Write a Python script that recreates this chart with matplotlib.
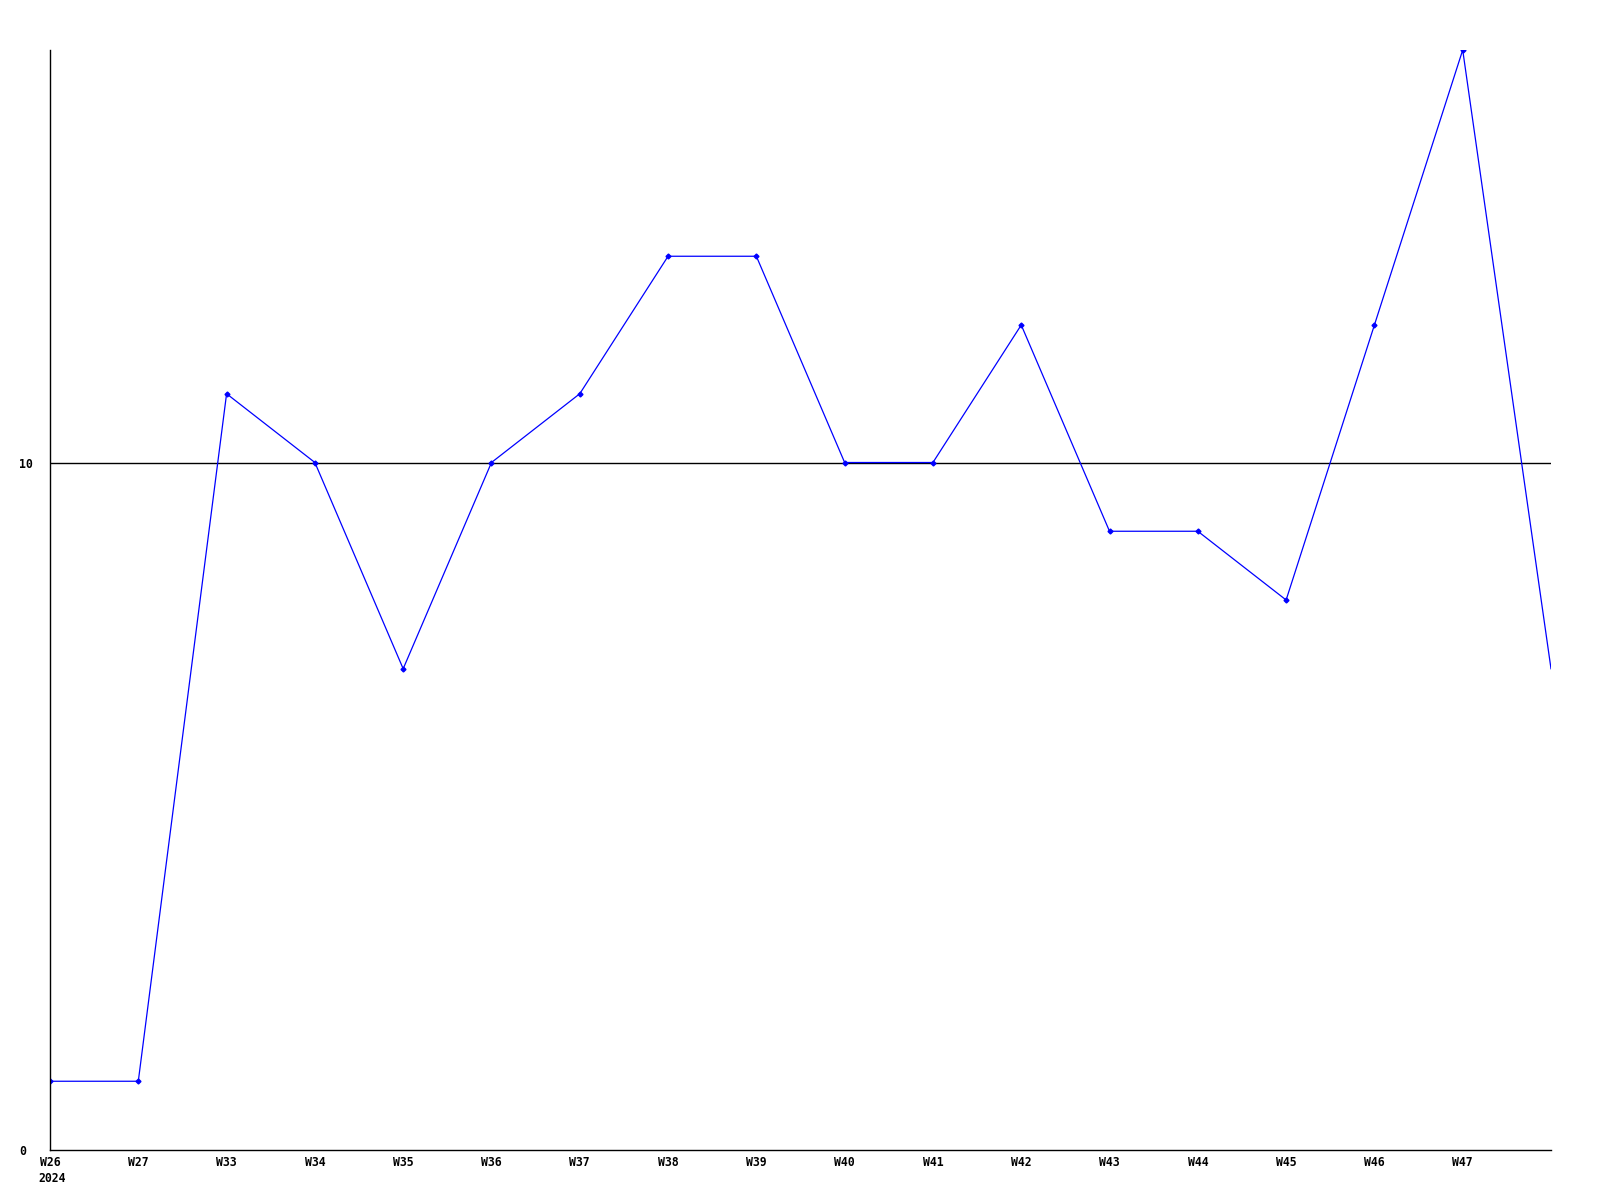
import matplotlib
matplotlib.use("Agg")
import matplotlib.pyplot as plt

weeks = ["W26", "W27", "W33", "W34", "W35", "W36", "W37", "W38", "W39",
         "W40", "W41", "W42", "W43", "W44", "W45", "W46", "W47", ""]
values = [1, 1, 11, 10, 7, 10, 11, 13, 13, 10, 10, 12, 9, 9, 8, 12, 16, 7]
year_label = "2024"
y_ticks = [0, 10]

fig = plt.figure(figsize=(16, 12), dpi=100)
ax = fig.add_axes([50/1600, 50/1200, 1501/1600, 1100/1200])

x = list(range(len(values)))
ax.plot(x, values, color="#0000ff", linewidth=0.9)
ax.plot(x[:-1], values[:-1], linestyle="none", marker="D", markersize=2.5,
        color="#0000ff")

ax.set_xlim(0, len(values) - 1)
ax.set_ylim(0, 16)
ax.axhline(10, color="black", linewidth=1.0, zorder=0)

for s in ["top", "right"]:
    ax.spines[s].set_visible(False)
for s in ["left", "bottom"]:
    ax.spines[s].set_color("black")
    ax.spines[s].set_linewidth(1.0)

font = dict(family="DejaVu Sans Mono", weight="bold", size=8.3)
ax.set_xticks(x[:-1])
ax.set_xticklabels(weeks[:-1], **font)
ax.set_yticks(y_ticks)
ax.set_yticklabels([str(v) for v in y_ticks], ha="left", **font)
ax.tick_params(axis="both", length=0)
ax.tick_params(axis="x", pad=4)
ax.tick_params(axis="y", pad=22)

ax.annotate(year_label, xy=(0, 0), xycoords="data", xytext=(-12, -28),
            textcoords="offset pixels", ha="left", va="center", **font)

fig.savefig("out.png", dpi=100, facecolor="white")
